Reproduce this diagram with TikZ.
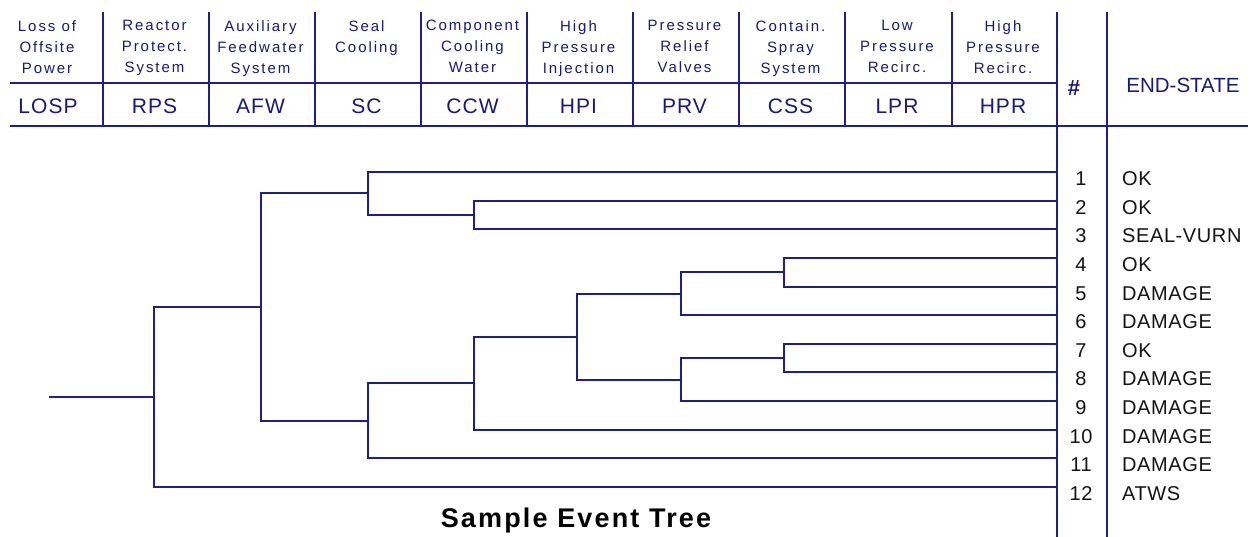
\documentclass[tikz,border=0pt]{standalone}
\usepackage{fontspec}
\setmainfont{Liberation Sans}
\newfontfamily\hdrfont{Liberation Sans}[LetterSpace=13]
\newfontfamily\abbfont{Liberation Sans}[LetterSpace=5]
\newfontfamily\endfont{Liberation Sans}[LetterSpace=3]
\newfontfamily\ttlfont{Liberation Sans}[LetterSpace=8]
\definecolor{rule}{RGB}{30,30,140}
\definecolor{hdrtext}{RGB}{25,25,125}
\definecolor{endtext}{RGB}{20,20,20}

\begin{document}
\begin{tikzpicture}[x=1pt,y=-1pt,
  rulel/.style={draw=rule,line width=2pt},
  branch/.style={draw=rule,line width=2pt},
  evtitle/.style={anchor=north,align=center,inner sep=0pt,text=hdrtext,
    font=\hdrfont\fontsize{15}{21}\selectfont},
  evabbr/.style={anchor=base,inner sep=0pt,text=hdrtext,
    font=\abbfont\fontsize{21}{25}\selectfont},
  seqnum/.style={anchor=base,inner sep=0pt,text=endtext,
    font=\endfont\fontsize{20}{24}\selectfont},
  endst/.style={anchor=base west,inner sep=0pt,text=endtext,
    font=\endfont\fontsize{20}{24}\selectfont},
]
\useasboundingbox (0,0) rectangle (1248,537);
\fill[white] (0,0) rectangle (1248,537);

% table rules of the heading
\foreach \x in {103,209,315,421,527,633,739,845,952}
  \draw[rulel] (\x,12) -- (\x,126);
\draw[rulel] (1057,12) -- (1057,537);
\draw[rulel] (1107,12) -- (1107,537);
\draw[rulel] (10,83) -- (1057,83);
\draw[rulel] (10,126) -- (1248,126);

% top events
\node[evtitle] (t1)  at (47,20)    {Loss of\\Offsite\\Power};
\node[evtitle] (t2)  at (154.5,20) {Reactor\\Protect.\\System};
\node[evtitle] (t3)  at (260.5,20) {Auxiliary\\Feedwater\\System};
\node[evtitle] (t4)  at (366.5,20) {Seal\\Cooling};
\node[evtitle] (t5)  at (472.5,20) {Component\\Cooling\\Water};
\node[evtitle] (t6)  at (578.5,20) {High\\Pressure\\Injection};
\node[evtitle] (t7)  at (684.5,20) {Pressure\\Relief\\Valves};
\node[evtitle] (t8)  at (790.5,20) {Contain.\\Spray\\System};
\node[evtitle] (t9)  at (897,20)   {Low\\Pressure\\Recirc.};
\node[evtitle] (t10) at (1003,20)  {High\\Pressure\\Recirc.};

\node[evabbr] (a1)  at (48,113.5)    {LOSP};
\node[evabbr] (a2)  at (154.5,113.5) {RPS};
\node[evabbr] (a3)  at (260.5,113.5) {AFW};
\node[evabbr] (a4)  at (366.5,113.5) {SC};
\node[evabbr] (a5)  at (472.5,113.5) {CCW};
\node[evabbr] (a6)  at (578.5,113.5) {HPI};
\node[evabbr] (a7)  at (684.5,113.5) {PRV};
\node[evabbr] (a8)  at (790.5,113.5) {CSS};
\node[evabbr] (a9)  at (897,113.5)   {LPR};
\node[evabbr] (a10) at (1003,113.5)  {HPR};

\node[anchor=center,inner sep=0pt,text=hdrtext,font=\fontsize{22}{24}\selectfont\bfseries]
  (hnum) at (1074,88.5) {\#};
\node[anchor=base,inner sep=0pt,text=hdrtext,font=\fontsize{20.5}{25}\selectfont]
  (hend) at (1183,93) {END-STATE};

% sequence ends, numbers and end states
\foreach \k/\st in {1/OK,2/OK,3/SEAL-VURN,4/OK,5/DAMAGE,6/DAMAGE,7/OK,
                    8/DAMAGE,9/DAMAGE,10/DAMAGE,11/DAMAGE,12/ATWS}{
  \pgfmathsetmacro\yk{172+28.636*(\k-1)}
  \coordinate (L\k) at (1057,\yk);
  \node[seqnum] (num\k) at (1081,\yk+13.5) {\k};
  \node[endst]  (end\k) at (1122,\yk+13.5) {\st};
}

% branch points
\coordinate (start) at (49,397.1);
\coordinate (rps)   at (154,397.1);
\coordinate (afw)   at (261,307.2);
\coordinate (scA)   at (368,193.5);
\coordinate (scB)   at (368,420.8);
\coordinate (ccwA)  at (474,214.95);
\coordinate (ccwB)  at (474,383.2);
\coordinate (hpi)   at (577,336.7);
\coordinate (prvA)  at (681,293.7);
\coordinate (prvB)  at (681,379.6);
\coordinate (cssA)  at (784,272.2);
\coordinate (cssB)  at (784,358.2);

% event tree
\draw[branch] (start) -- (rps);
\draw[branch] (rps)  |- (afw);
\draw[branch] (rps)  |- (L12);
\draw[branch] (afw)  |- (scA);
\draw[branch] (afw)  |- (scB);
\draw[branch] (scA)  |- (L1);
\draw[branch] (scA)  |- (ccwA);
\draw[branch] (ccwA) |- (L2);
\draw[branch] (ccwA) |- (L3);
\draw[branch] (scB)  |- (ccwB);
\draw[branch] (scB)  |- (L11);
\draw[branch] (ccwB) |- (hpi);
\draw[branch] (ccwB) |- (L10);
\draw[branch] (hpi)  |- (prvA);
\draw[branch] (hpi)  |- (prvB);
\draw[branch] (prvA) |- (cssA);
\draw[branch] (prvA) |- (L6);
\draw[branch] (cssA) |- (L4);
\draw[branch] (cssA) |- (L5);
\draw[branch] (prvB) |- (cssB);
\draw[branch] (prvB) |- (L9);
\draw[branch] (cssB) |- (L7);
\draw[branch] (cssB) |- (L8);

\node[anchor=base,inner sep=0pt,text=black,font=\ttlfont\bfseries\fontsize{27}{32}\selectfont]
  (ttl) at (576,527) {Sample Event Tree};
\end{tikzpicture}
\end{document}
